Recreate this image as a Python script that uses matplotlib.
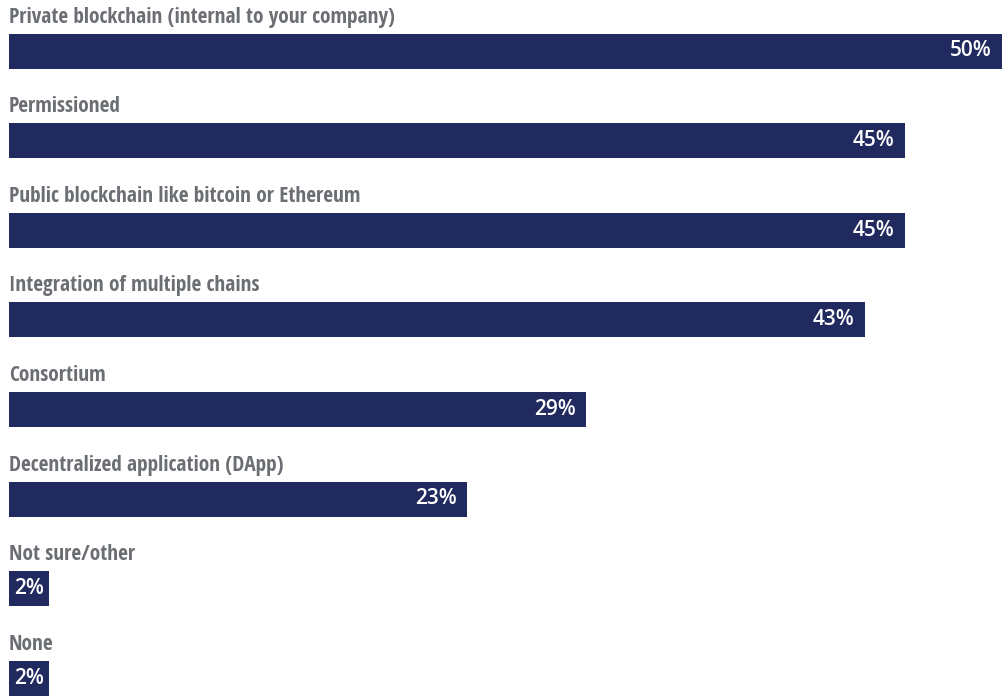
import matplotlib
matplotlib.use("Agg")
import matplotlib.pyplot as plt
from matplotlib import font_manager

categories = [
    "Private blockchain (internal to your company)",
    "Permissioned",
    "Public blockchain like bitcoin or Ethereum",
    "Integration of multiple chains",
    "Consortium",
    "Decentralized application (DApp)",
    "Not sure/other",
    "None",
]
values = [50, 45, 45, 43, 29, 23, 2, 2]
value_labels = ["50%", "45%", "45%", "43%", "29%", "23%", "2%", "2%"]

# pick a condensed bold font for the category labels
fonts = font_manager.fontManager.ttflist
label_font, label_stretch = "DejaVu Sans", "condensed"
cands = [f for f in fonts if f.name.startswith("Open Sans") and f.stretch == "condensed"]
if cands:
    label_font = cands[0].name
else:
    cands = [f for f in fonts if f.name.startswith("Open Sans Cond")]
    if cands:
        label_font = cands[0].name

BAR = "#212a5f"
GRAY = "#6b6e73"

W, H = 1002, 696
fig = plt.figure(figsize=(W / 100, H / 100), dpi=100)
ax = fig.add_axes([0, 0, 1, 1])
ax.set_axis_off()
left_px = 9
px_per_unit = 19.9
ax.set_xlim(-left_px / px_per_unit, (W - left_px) / px_per_unit)
ax.set_ylim(H, 0)

step = 89.6
for i, (cat, v, lab) in enumerate(zip(categories, values, value_labels)):
    yc = 51 + i * step
    ax.barh(yc, v, height=35, color=BAR, left=0)
    ax.text(0, yc - 34, cat, ha="left", va="center", fontsize=15.4,
            fontweight="bold", fontstretch=label_stretch, color=GRAY,
            family=label_font)
    if v * px_per_unit > 70:
        ax.annotate(lab, xy=(min(v, (W - left_px) / px_per_unit), yc),
                    xytext=(-10, 0), textcoords="offset pixels",
                    ha="right", va="center", fontsize=15, fontweight="semibold",
                    color="white", family="Open Sans")
    else:
        ax.annotate(lab, xy=(0, yc), xytext=(5, 0), textcoords="offset pixels",
                    ha="left", va="center", fontsize=15, fontweight="semibold",
                    color="white", family="Open Sans")

fig.savefig("out.png", dpi=100)
